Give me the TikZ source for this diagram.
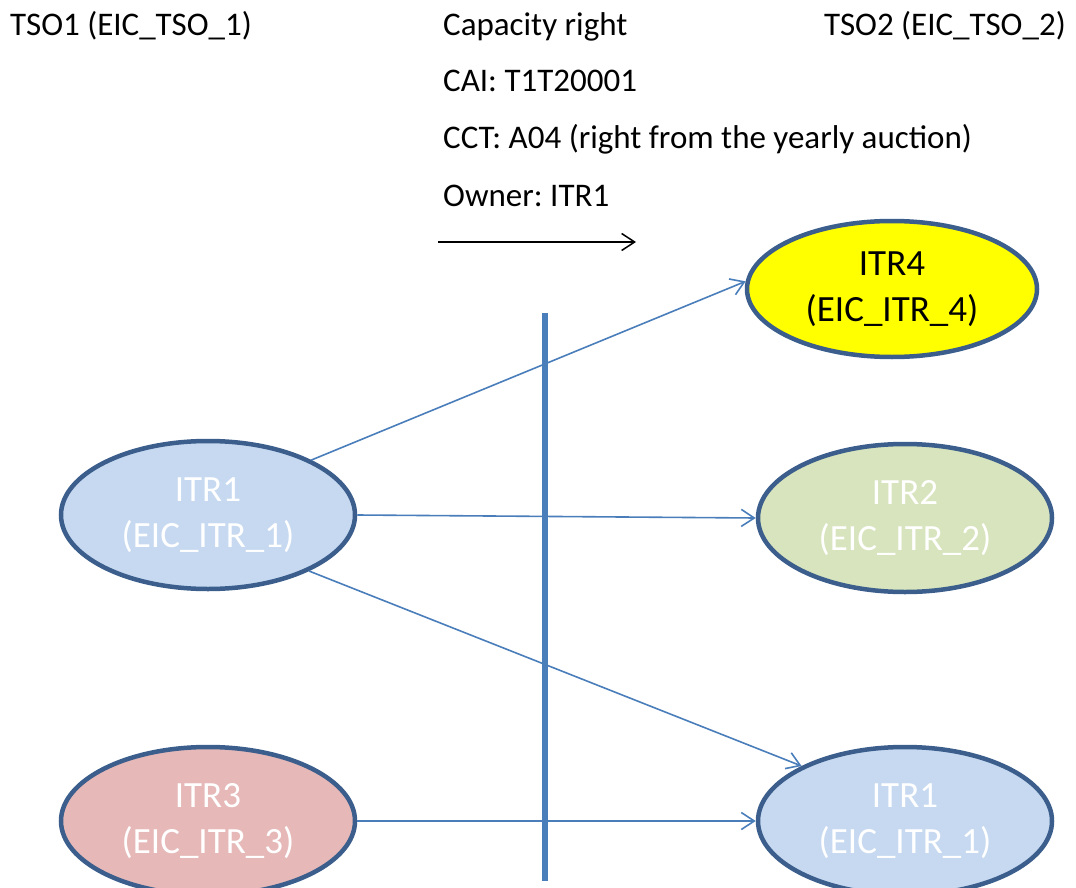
\documentclass[tikz,border=0pt]{standalone}
\usepackage{fontspec}
\setmainfont{Carlito}
\frenchspacing
\usetikzlibrary{shapes.geometric,arrows.meta}
\definecolor{itrline}{HTML}{3B5E8C}
\definecolor{arrowblue}{HTML}{4A7EBB}
\definecolor{itrblue}{HTML}{C6D9F0}
\definecolor{itrgreen}{HTML}{D7E4BD}
\definecolor{itrred}{HTML}{E6B9B8}
\definecolor{itryellow}{HTML}{FFFF00}
\tikzset{
  itr/.style={ellipse, draw=itrline, line width=4.5pt, minimum width=294pt,
    minimum height=148pt, inner sep=0pt, align=center, text=white,
    font=\fontsize{37}{46}\selectfont},
  toptext/.style={inner sep=0pt, font=\fontsize{33}{40}\selectfont},
  flow/.style={draw=arrowblue, line width=1.6pt, -{Straight Barb[length=13pt,width=17pt]}},
}
\begin{document}
\begin{tikzpicture}[x=1pt,y=-1pt]
    \useasboundingbox (0,0) rectangle (1076,888);
    \node [toptext, anchor=base west] (tso1) at (10,36) {TSO1 (EIC\_TSO\_1)};
    \node [toptext, anchor=base west] (cap) at (443,36) {Capacity right};
    \node [toptext, anchor=base east] (tso2) at (1066,36) {TSO2 (EIC\_TSO\_2)};
    \node [toptext, anchor=base west] (cai) at (443,92) {CAI: T1T20001};
    \node [toptext, anchor=base west] (cct) at (443,149) {CCT: A04 (right from the yearly auction)};
    \node [toptext, anchor=base west] (owner) at (443,206) {Owner: ITR1};
    \coordinate (dirA) at (438,242);
    \coordinate (dirB) at (636,242);
    \draw [black, line width=1.5pt, -{Straight Barb[length=13pt,width=17pt]}] (dirA) -- (dirB);
    % border between the two TSOs
    \coordinate (bordA) at (545,313);
    \coordinate (bordB) at (545,881);
    \draw [arrowblue, line width=6pt] (bordA) -- (bordB);
    % interconnection traders
    \node [itr, fill=itrblue] (leftone) at (208,515) {ITR1\\(EIC\_ITR\_1)};
    \node [itr, fill=itrred] (leftthree) at (208,821) {ITR3\\(EIC\_ITR\_3)};
    \node [itr, fill=itryellow, text=black, minimum width=290pt, minimum height=136pt] (rightfour) at (892,289) {ITR4\\(EIC\_ITR\_4)};
    \node [itr, fill=itrgreen] (righttwo) at (905,518) {ITR2\\(EIC\_ITR\_2)};
    \node [itr, fill=itrblue] (rightone) at (905,821) {ITR1\\(EIC\_ITR\_1)};
    \draw [flow] (leftone.28) -- (rightfour.177);
    \draw [flow] (leftone.east) -- (righttwo.west);
    \draw [flow] (leftone.-29) -- (rightone.152);
    \draw [flow] (leftthree.east) -- (rightone.west);
\end{tikzpicture}
\end{document}
